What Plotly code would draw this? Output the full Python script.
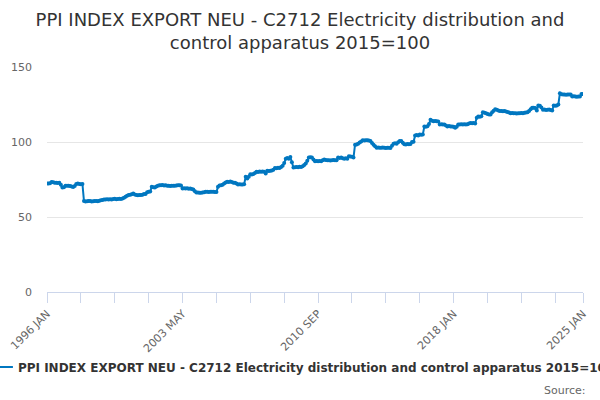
import plotly.graph_objects as go

years = list(range(1996, 2026))
month_names = ["JAN", "FEB", "MAR", "APR", "MAY", "JUN", "JUL", "AUG", "SEP", "OCT", "NOV", "DEC"]

v1996 = [72.3, 72.4, 72.5, 73.4, 73.1, 72.8, 72.8, 72.7, 72.8, 71.5, 69.7, 69.8]
v1997 = [70.8, 70.9, 70.8, 70.6, 70.3, 70.0, 70.6, 72.0, 72.3, 72.0, 71.8, 72.0]
v1998 = [60.6, 60.3, 60.5, 60.7, 60.6, 60.4, 60.5, 60.6, 60.7, 60.5, 60.8, 61.2]
v1999 = [61.4, 61.7, 61.6, 61.8, 61.7, 61.9, 61.7, 62.0, 62.1, 61.9, 62.0, 62.1]
v2000 = [62.0, 62.4, 62.8, 63.5, 64.2, 64.6, 64.8, 65.2, 65.7, 65.0, 64.6, 64.5]
v2001 = [64.6, 64.7, 64.9, 65.3, 65.4, 66.5, 66.8, 67.0, 70.1, 69.9, 69.7, 70.3]
v2002 = [70.8, 71.2, 71.2, 71.3, 71.0, 71.2, 70.8, 70.9, 70.7, 70.8, 70.9, 70.8]
v2003 = [71.0, 71.1, 71.2, 71.0, 69.0, 69.2, 69.0, 69.1, 68.9, 69.0, 68.7, 68.4]
v2004 = [67.2, 66.4, 66.3, 66.2, 66.1, 66.3, 66.5, 66.8, 66.9, 66.7, 66.8, 66.9]
v2005 = [66.8, 66.7, 66.6, 70.1, 71.0, 71.2, 71.5, 72.3, 73.0, 73.5, 73.4, 73.6]
v2006 = [73.4, 72.8, 72.9, 72.3, 71.7, 71.8, 71.6, 71.7, 71.9, 76.8, 75.7, 76.9]
v2007 = [78.5, 78.3, 78.6, 79.3, 80.1, 80.0, 80.3, 80.1, 80.4, 80.1, 79.0, 80.8]
v2008 = [80.6, 80.9, 81.0, 81.5, 82.7, 82.5, 82.9, 82.7, 83.4, 84.2, 86.0, 88.9]
v2009 = [89.3, 88.9, 90.0, 86.5, 83.0, 83.2, 83.4, 83.2, 83.5, 83.4, 83.8, 84.6]
v2010 = [85.6, 87.5, 89.6, 89.8, 89.6, 88.4, 87.2, 87.4, 87.1, 87.3, 87.2, 87.8]
v2011 = [88.3, 88.0, 87.8, 87.9, 87.7, 87.8, 88.0, 87.9, 87.8, 89.6, 89.4, 89.6]
v2012 = [89.2, 88.9, 89.1, 88.8, 90.5, 90.4, 90.1, 89.6, 98.2, 98.4, 98.9, 99.6]
v2013 = [100.4, 101.1, 101.0, 101.2, 101.1, 101.0, 100.7, 99.4, 98.2, 97.2, 96.2, 96.4]
v2014 = [96.2, 96.1, 96.3, 96.2, 96.0, 96.2, 96.1, 96.0, 97.5, 98.9, 99.1, 98.9]
v2015 = [99.8, 100.7, 100.6, 99.5, 98.5, 98.4, 98.6, 98.5, 98.7, 100.0, 100.1, 104.4]
v2016 = [104.6, 104.4, 105.0, 104.9, 105.0, 110.4, 110.2, 110.5, 112.0, 114.8, 114.2, 113.9]
v2017 = [114.0, 113.9, 113.7, 111.7, 111.9, 111.6, 111.7, 111.0, 110.4, 110.6, 110.3, 110.4]
v2018 = [110.2, 109.5, 110.2, 111.7, 111.6, 111.8, 111.7, 111.9, 111.7, 111.9, 112.3, 112.6]
v2019 = [112.5, 112.6, 112.4, 116.2, 117.0, 116.9, 117.1, 119.9, 119.5, 119.2, 118.7, 118.4]
v2020 = [118.4, 119.9, 120.8, 121.9, 121.5, 121.0, 120.6, 120.7, 120.5, 120.6, 120.4, 120.0]
v2021 = [119.6, 119.2, 119.3, 119.1, 119.2, 119.0, 119.2, 119.1, 119.3, 119.2, 119.5, 119.7]
v2022 = [119.9, 120.6, 121.8, 122.8, 122.9, 122.7, 121.0, 124.3, 124.2, 123.0, 121.5, 121.6]
v2023 = [121.4, 121.5, 121.6, 121.4, 121.0, 124.3, 124.2, 124.4, 125.0, 132.5, 131.8, 131.6]
v2024 = [131.7, 131.5, 131.6, 131.7, 131.6, 130.3, 130.5, 130.3, 130.2, 130.4, 130.3, 132.0]
v2025 = [132.0]

values = (v1996 + v1997 + v1998 + v1999 + v2000 + v2001 + v2002 + v2003 + v2004 + v2005
          + v2006 + v2007 + v2008 + v2009 + v2010 + v2011 + v2012 + v2013 + v2014 + v2015
          + v2016 + v2017 + v2018 + v2019 + v2020 + v2021 + v2022 + v2023 + v2024 + v2025)

categories = [f"{y} {m}" for y in years for m in month_names][:len(values)]

labelled_ticks = ["1996 JAN", "2003 MAY", "2010 SEP", "2018 JAN", "2025 JAN"]
tick_step = 22
tick_positions = list(range(0, len(categories), tick_step)) + [len(categories) - 1]
tick_vals = [categories[i] for i in tick_positions]
tick_text = [c if c in labelled_ticks else "" for c in tick_vals]

series_name = "PPI INDEX EXPORT NEU - C2712 Electricity distribution and control apparatus 2015=100"

fig = go.Figure()
fig.add_trace(go.Scatter(
    x=categories, y=values, mode="lines+markers", name=series_name,
    line=dict(color="#0077c0", width=2),
    marker=dict(color="#0077c0", size=4),
))

fig.update_layout(
    width=600, height=400,
    paper_bgcolor="white", plot_bgcolor="white",
    margin=dict(l=47, r=17, t=67, b=108, autoexpand=False),
    font=dict(family="DejaVu Sans", color="#666666"),
    title=dict(
        text="PPI INDEX EXPORT NEU - C2712 Electricity distribution and<br>control apparatus 2015=100",
        x=0.5, xanchor="center", y=0.935, yanchor="top",
        font=dict(family="DejaVu Sans", size=18, color="#333333"),
    ),
    showlegend=True,
    legend=dict(
        orientation="h", x=0.47, xanchor="center", y=-0.333, yanchor="middle",
        font=dict(family="DejaVu Sans", size=12, color="#333333", weight="bold"),
        bgcolor="rgba(0,0,0,0)",
    ),
    xaxis=dict(
        type="category", range=[0, len(categories) - 1], automargin=False,
        tickmode="array", tickvals=tick_vals, ticktext=tick_text,
        tickangle=-45, tickfont=dict(size=11, color="#666666"),
        showline=True, linecolor="#ccd6eb", linewidth=1,
        ticks="outside", ticklen=10, tickcolor="#ccd6eb",
        showgrid=False, zeroline=False,
    ),
    yaxis=dict(
        range=[0, 150], dtick=50, tick0=0, automargin=False,
        showgrid=True, gridcolor="#e6e6e6", gridwidth=1,
        zeroline=False, showline=False,
        tickfont=dict(size=11, color="#666666"),
        ticks="", ticklabelstandoff=14,
    ),
    annotations=[dict(
        text="Source:", xref="paper", yref="paper", x=1.009, y=-0.436,
        xanchor="right", yanchor="middle", showarrow=False,
        font=dict(family="DejaVu Sans", size=11, color="#666666"),
    )],
)

fig.write_html("out.html", config={"displayModeBar": False},
               post_script="document.body.style.margin='0';")
